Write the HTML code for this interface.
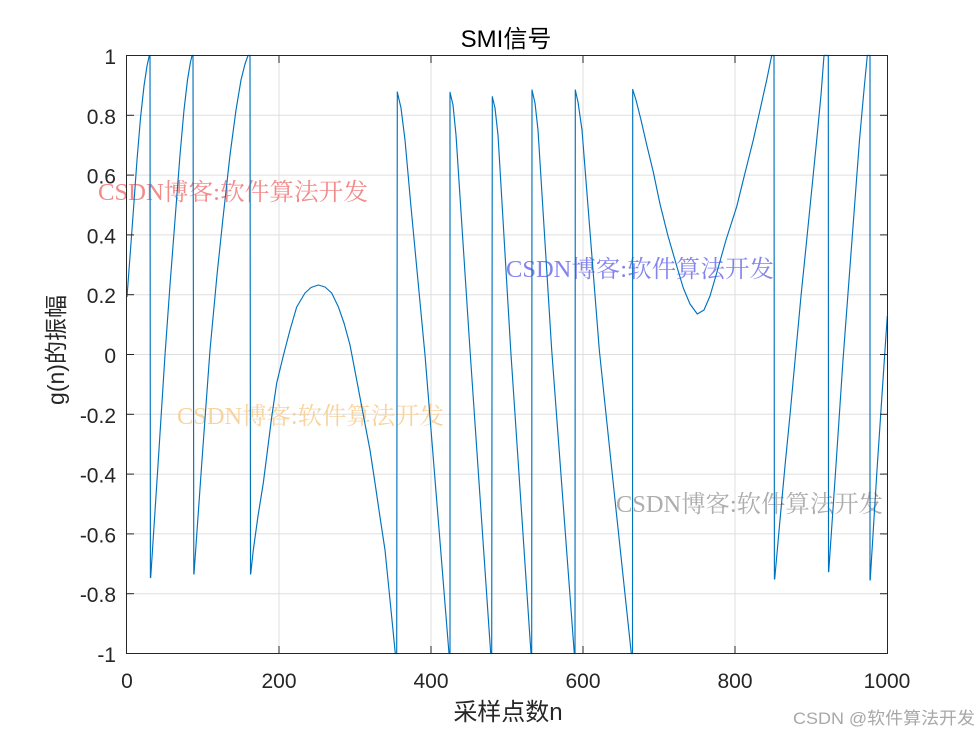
<!DOCTYPE html>
<html>
<head>
<meta charset="utf-8">
<style>
html,body{margin:0;padding:0;background:#fff;}
svg{display:block;}
</style>
</head>
<body>
<svg width="980" height="735" viewBox="0 0 980 735" xmlns="http://www.w3.org/2000/svg">
<rect width="980" height="735" fill="#fff"/>
<!-- grid -->
<g stroke="#dfdfdf" stroke-width="1">
<line x1="279" y1="55.5" x2="279" y2="653.5"/>
<line x1="431" y1="55.5" x2="431" y2="653.5"/>
<line x1="583" y1="55.5" x2="583" y2="653.5"/>
<line x1="735" y1="55.5" x2="735" y2="653.5"/>
<line x1="127" y1="115.3" x2="887" y2="115.3"/>
<line x1="127" y1="175.1" x2="887" y2="175.1"/>
<line x1="127" y1="234.9" x2="887" y2="234.9"/>
<line x1="127" y1="294.7" x2="887" y2="294.7"/>
<line x1="127" y1="354.5" x2="887" y2="354.5"/>
<line x1="127" y1="414.3" x2="887" y2="414.3"/>
<line x1="127" y1="474.1" x2="887" y2="474.1"/>
<line x1="127" y1="533.9" x2="887" y2="533.9"/>
<line x1="127" y1="593.7" x2="887" y2="593.7"/>
</g>

<!-- watermarks -->
<g font-family="'Liberation Serif','Noto Serif CJK SC',serif" font-size="24">
<text x="98" y="200" fill="#f28a8a" textLength="270" lengthAdjust="spacingAndGlyphs">CSDN博客:软件算法开发</text>
<text x="506" y="277" fill="#8484ee" textLength="268" lengthAdjust="spacingAndGlyphs">CSDN博客:软件算法开发</text>
<text x="177" y="424" fill="#f8d39f" textLength="267" lengthAdjust="spacingAndGlyphs">CSDN博客:软件算法开发</text>
<text x="616" y="512" fill="#adadad" textLength="267" lengthAdjust="spacingAndGlyphs">CSDN博客:软件算法开发</text>
</g>

<!-- signal -->
<polyline fill="none" stroke="#0072BD" stroke-width="1.15" stroke-linejoin="round" points="
127,297 132.7,220 137,160 140.5,118 144,86 147,66 149.3,55.5 150,55.5 150.4,577.5
150.7,577.5 158,465 165,355 170,285 175,220 180,155 184,110 187.5,80 190.3,63 192,55.5 193,55.5 193.8,574
194,574 202,460 210,350 217,275 223,218 230,155 236,110 241,80 245,64 248,55.5 250,55.5 250.5,574
250.7,574 253.3,550 258,516 263.3,483 267.5,450 271.7,417 276.7,383 283.5,355 290,330 296.7,307 305,293 311,287.5 318.3,285 325,287 331.7,293 338.3,306.7 344,323 350,345 356.7,380 363.3,415 370,450 375,483 380,517 385,550 388.3,583 391.7,617 395.3,653.5 396.7,653.5
397.3,92 401,108 405,140 411,207 425,355 449,653.5 450,653.5
450,92.3 453,105 456,135 470,350 490.7,653.5 491.7,653.5
492.3,96.7 495,108 498,135 510.7,350 531,653.5 531.7,653.5
532,90 535,103 538,130 551.7,350 574.3,653.5 575,653.5
575.3,90 578,102 582,130 599.3,350 615,500 631.3,653.5 632.5,653.5
632.7,89.5 636,100 641,120 647,146 653.3,172 660,204 668,236 677,267 683.3,288 690,304 697.3,314 704,310 710,296 716.7,273 726,240 736.7,206.7 745,173 753.3,140 760,110 766.7,80 771.7,55.5 774,55.5 774.4,579
774.7,579 780,520 785,466 790,415 796,350 801,296 806.7,240 812,187 816.7,140 821,95 824,55.5 828.3,55.5 828.5,571.7
828.7,571.7 836,465 843,360 852,240 859.5,140 864,90 867.3,55.5 870,55.5 870,580
870.2,580 877,470 885,350 887.3,316"/>

<!-- axes box -->
<rect x="126.5" y="55.5" width="761" height="598" fill="none" stroke="#262626" stroke-width="1"/>
<!-- ticks -->
<g stroke="#262626" stroke-width="1">
<line x1="279" y1="653.5" x2="279" y2="646"/><line x1="431" y1="653.5" x2="431" y2="646"/><line x1="583" y1="653.5" x2="583" y2="646"/><line x1="735" y1="653.5" x2="735" y2="646"/>
<line x1="279" y1="55.5" x2="279" y2="63"/><line x1="431" y1="55.5" x2="431" y2="63"/><line x1="583" y1="55.5" x2="583" y2="63"/><line x1="735" y1="55.5" x2="735" y2="63"/>
<line x1="126.5" y1="115.3" x2="134" y2="115.3"/><line x1="126.5" y1="175.1" x2="134" y2="175.1"/><line x1="126.5" y1="234.9" x2="134" y2="234.9"/><line x1="126.5" y1="294.7" x2="134" y2="294.7"/><line x1="126.5" y1="354.5" x2="134" y2="354.5"/><line x1="126.5" y1="414.3" x2="134" y2="414.3"/><line x1="126.5" y1="474.1" x2="134" y2="474.1"/><line x1="126.5" y1="533.9" x2="134" y2="533.9"/><line x1="126.5" y1="593.7" x2="134" y2="593.7"/>
<line x1="887.5" y1="115.3" x2="880" y2="115.3"/><line x1="887.5" y1="175.1" x2="880" y2="175.1"/><line x1="887.5" y1="234.9" x2="880" y2="234.9"/><line x1="887.5" y1="294.7" x2="880" y2="294.7"/><line x1="887.5" y1="354.5" x2="880" y2="354.5"/><line x1="887.5" y1="414.3" x2="880" y2="414.3"/><line x1="887.5" y1="474.1" x2="880" y2="474.1"/><line x1="887.5" y1="533.9" x2="880" y2="533.9"/><line x1="887.5" y1="593.7" x2="880" y2="593.7"/>
</g>

<!-- tick labels -->
<g font-family="'Liberation Sans',Arial,sans-serif" font-size="21" fill="#262626" text-anchor="end">
<text x="116" y="64">1</text>
<text x="116" y="123.8">0.8</text>
<text x="116" y="183.6">0.6</text>
<text x="116" y="243.4">0.4</text>
<text x="116" y="303.2">0.2</text>
<text x="116" y="363">0</text>
<text x="116" y="422.8">-0.2</text>
<text x="116" y="482.6">-0.4</text>
<text x="116" y="542.4">-0.6</text>
<text x="116" y="602.2">-0.8</text>
<text x="116" y="662">-1</text>
</g>
<g font-family="'Liberation Sans',Arial,sans-serif" font-size="21" fill="#262626" text-anchor="middle">
<text x="127" y="688">0</text>
<text x="279" y="688">200</text>
<text x="431" y="688">400</text>
<text x="583" y="688">600</text>
<text x="735" y="688">800</text>
<text x="887" y="688">1000</text>
</g>

<!-- title and labels -->
<text x="506" y="47" font-family="'Liberation Sans','Noto Sans CJK SC',sans-serif" font-size="24" fill="#000" text-anchor="middle">SMI信号</text>
<text x="508" y="720" font-family="'Liberation Sans','Noto Sans CJK SC',sans-serif" font-size="24" fill="#262626" text-anchor="middle">采样点数n</text>
<text transform="translate(64,350) rotate(-90)" x="0" y="0" font-family="'Liberation Sans','Noto Sans CJK SC',sans-serif" font-size="23" fill="#262626" text-anchor="middle">g(n)的振幅</text>

<!-- bottom-right watermark -->
<text x="793" y="724" font-family="'Liberation Sans','Noto Sans CJK SC',sans-serif" font-size="17" fill="#a8a8a8" textLength="182" lengthAdjust="spacingAndGlyphs">CSDN @软件算法开发</text>
</svg>
</body>
</html>
